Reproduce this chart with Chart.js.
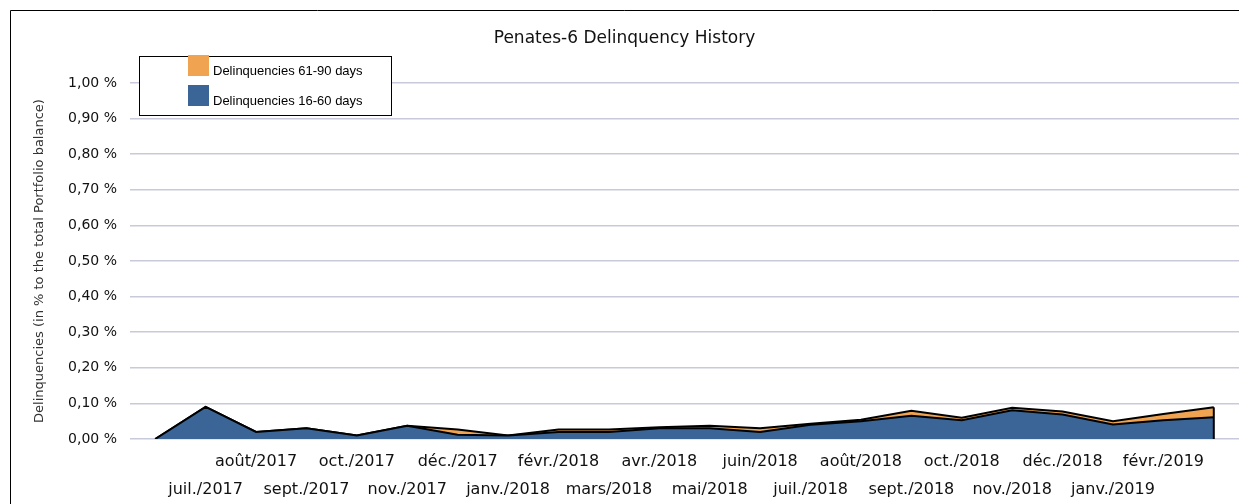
<!DOCTYPE html>
<html lang="fr">
<head>
  <meta charset="UTF-8">
  <title>Penates-6 Delinquency History</title>
  <script src="https://cdn.jsdelivr.net/npm/chart.js"></script>
  <style>
    body {
      margin: 0;
      background: #fff;
    }
    canvas {
      display: block;
    }
  </style>
</head>
<body>

  <canvas id="delinquencyChart" width="1239" height="504"></canvas>

  <script>
    // months on the category axis (first and last points carry no label)
    const months = ['', 'juil./2017', 'août/2017', 'sept./2017', 'oct./2017', 'nov./2017', 'déc./2017',
      'janv./2018', 'févr./2018', 'mars/2018', 'avr./2018', 'mai/2018', 'juin/2018',
      'juil./2018', 'août/2018', 'sept./2018', 'oct./2018', 'nov./2018', 'déc./2018',
      'janv./2019', 'févr./2019', ''];

    // values in % of total portfolio balance
    const del16to60 = [0, 0.09, 0.02, 0.03, 0.01, 0.037, 0.012, 0.01, 0.02, 0.02, 0.03,
      0.03, 0.02, 0.04, 0.05, 0.065, 0.053, 0.081, 0.069, 0.041, 0.053, 0.061];
    const del61to90 = [0, 0, 0, 0, 0, 0, 0.015, 0, 0.007, 0.007, 0.003,
      0.007, 0.01, 0.003, 0.004, 0.014, 0.007, 0.007, 0.008, 0.009, 0.017, 0.028];

    const yTicks = [0, 0.1, 0.2, 0.3, 0.4, 0.5, 0.6, 0.7, 0.8, 0.9, 1.0];

    const BLUE = '#3a6596';
    const ORANGE = '#f0a350';

    // frame, boxed legend and the closing edge of the stacked area
    const extras = {
      id: 'extras',
      afterDraw(chart) {
        const ctx = chart.ctx;
        ctx.save();

        ctx.strokeStyle = '#000';
        ctx.lineWidth = 1;
        ctx.beginPath();
        ctx.moveTo(10.5, chart.height);
        ctx.lineTo(10.5, 10.5);
        ctx.lineTo(chart.width, 10.5);
        ctx.stroke();

        // right edge of the area
        const last = months.length - 1;
        const xs = chart.scales.x, ys = chart.scales.y;
        const px = xs.getPixelForValue(last);
        ctx.lineWidth = 2;
        ctx.beginPath();
        ctx.moveTo(px, ys.getPixelForValue(0));
        ctx.lineTo(px, ys.getPixelForValue(del16to60[last] + del61to90[last]));
        ctx.stroke();

        // legend
        ctx.fillStyle = '#fff';
        ctx.fillRect(139, 56, 252, 59);
        ctx.lineWidth = 1;
        ctx.strokeRect(139.5, 56.5, 252, 59);
        const items = [chart.data.datasets[1], chart.data.datasets[0]];
        ctx.font = '13px "Liberation Sans", Arial, sans-serif';
        ctx.textBaseline = 'middle';
        items.forEach((ds, i) => {
          ctx.fillStyle = ds.backgroundColor;
          ctx.fillRect(188, 55 + i * 30, 21, 21);
          ctx.fillStyle = '#000';
          ctx.fillText(ds.label, 213, 71 + i * 30);
        });
        ctx.restore();
      }
    };

    new Chart(document.getElementById('delinquencyChart'), {
      type: 'line',
      data: {
        labels: months,
        datasets: [{
          label: 'Delinquencies 16-60 days',
          data: del16to60,
          backgroundColor: BLUE,
          borderColor: '#000',
          borderWidth: 2,
          fill: 'origin',
          pointRadius: 0,
          tension: 0
        }, {
          label: 'Delinquencies 61-90 days',
          data: del61to90,
          backgroundColor: ORANGE,
          borderColor: '#000',
          borderWidth: 2,
          fill: '-1',
          pointRadius: 0,
          tension: 0
        }]
      },
      options: {
        responsive: false,
        animation: false,
        layout: {
          padding: { left: 10, top: 18, right: 0, bottom: 0 }
        },
        scales: {
          x: {
            offset: true,
            grid: { display: false },
            border: { display: false },
            ticks: {
              autoSkip: false,
              maxRotation: 0,
              minRotation: 0,
              padding: 1,
              color: '#111',
              font: { family: '"DejaVu Sans", sans-serif', size: 16, lineHeight: '28px' },
              callback: (v, i) => (i % 2 ? ['', months[i]] : [months[i], ''])
            },
            afterFit: (s) => { s.height = 65; }
          },
          y: {
            stacked: true,
            min: 0,
            max: 1,
            afterBuildTicks: (s) => { s.ticks = yTicks.map(v => ({ value: v })); },
            grid: { color: '#c9c9dc', lineWidth: 1.5, drawTicks: false },
            border: { display: false },
            ticks: {
              padding: 13,
              color: '#111',
              font: { family: '"DejaVu Sans", sans-serif', size: 14 },
              callback: (v) => v.toFixed(2).replace('.', ',') + ' %'
            },
            title: {
              display: true,
              text: 'Delinquencies (in % to the total Portfolio balance)',
              color: '#333',
              font: { family: '"DejaVu Sans", sans-serif', size: 13 },
              padding: { top: 22, bottom: 0 }
            },
            afterFit: (s) => { s.width = 120; }
          }
        },
        plugins: {
          legend: { display: false },
          tooltip: { enabled: false },
          title: {
            display: true,
            text: 'Penates-6 Delinquency History',
            color: '#111',
            font: { family: '"DejaVu Sans", sans-serif', size: 17, weight: 'normal' },
            padding: { top: 10, bottom: 34.6 }
          }
        }
      },
      plugins: [extras]
    });
  </script>

</body>
</html>
